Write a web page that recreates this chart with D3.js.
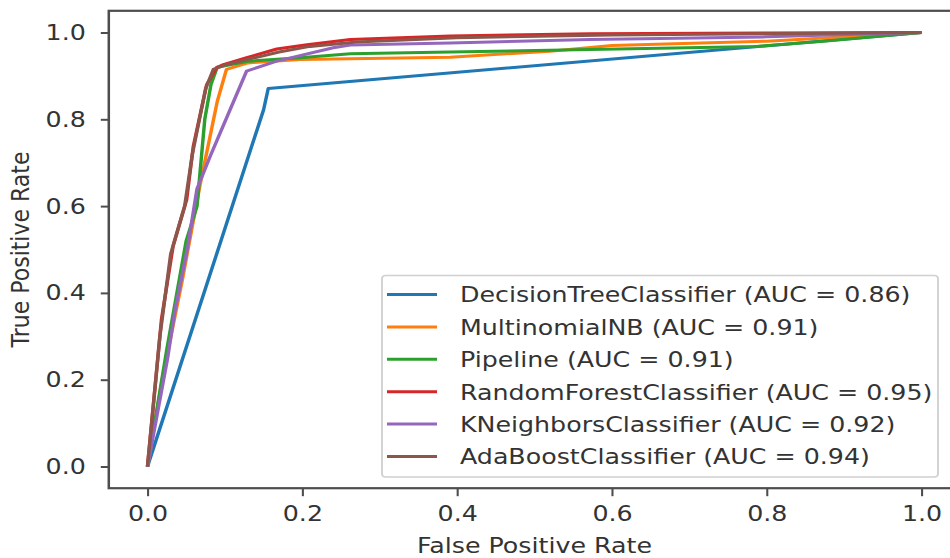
<!DOCTYPE html>
<html>
<head>
<meta charset="utf-8">
<script src="https://cdn.jsdelivr.net/npm/d3@7"></script>
<style>
  body { margin: 0; background: #fff; }
  svg { display: block; }
  text { font-family: "DejaVu Sans", sans-serif; fill: #333; }
</style>
</head>
<body>
<svg id="chart"></svg>
<script>
// ROC curves, one fpr/tpr pair per classifier
var names = ['DecisionTreeClassifier', 'MultinomialNB', 'Pipeline',
             'RandomForestClassifier', 'KNeighborsClassifier', 'AdaBoostClassifier'];
var aucs = [0.86, 0.91, 0.91, 0.95, 0.92, 0.94];
var colors = ['#1f77b4', '#ff7f0e', '#2ca02c', '#d62728', '#9467bd', '#8c564b'];

var dtFpr = [0, 0.150, 0.156, 1];
var dtTpr = [0, 0.822, 0.871, 1];

var nbFpr = [0, 0.02, 0.045, 0.068, 0.09, 0.102, 0.13, 0.197, 0.391, 0.52, 0.6, 0.8, 1];
var nbTpr = [0, 0.21, 0.43, 0.65, 0.84, 0.915, 0.93, 0.938, 0.943, 0.957, 0.97, 0.98, 1];

var plFpr = [0, 0.025, 0.05, 0.064, 0.074, 0.082, 0.09, 0.12, 0.132, 0.197, 0.262, 0.391, 0.572, 0.787, 0.873, 1];
var plTpr = [0, 0.27, 0.52, 0.6, 0.8, 0.88, 0.92, 0.93, 0.934, 0.942, 0.951, 0.955, 0.961, 0.968, 0.98, 1];

var rfFpr = [0, 0.018, 0.033, 0.0506, 0.0592, 0.0765, 0.0894, 0.098, 0.128, 0.167, 0.206, 0.262, 0.391, 0.572, 0.8, 1];
var rfTpr = [0, 0.338, 0.507, 0.615, 0.738, 0.88, 0.919, 0.926, 0.942, 0.962, 0.972, 0.984, 0.992, 0.997, 0.999, 1];

var knFpr = [0, 0.026, 0.035, 0.052, 0.064, 0.081, 0.128, 0.167, 0.24, 0.262, 0.391, 0.572, 0.8, 1];
var knTpr = [0, 0.25, 0.354, 0.507, 0.64, 0.715, 0.911, 0.934, 0.965, 0.971, 0.976, 0.984, 0.99, 1];

var abFpr = [0, 0.016, 0.03, 0.048, 0.058, 0.075, 0.085, 0.1, 0.13, 0.17, 0.21, 0.27, 0.4, 0.6, 0.8, 1];
var abTpr = [0, 0.3, 0.49, 0.6, 0.72, 0.87, 0.915, 0.925, 0.938, 0.955, 0.968, 0.978, 0.988, 0.994, 0.997, 1];

var xTicks = [0, 0.2, 0.4, 0.6, 0.8, 1.0];
var yTicks = [0, 0.2, 0.4, 0.6, 0.8, 1.0];

var fprs = [dtFpr, nbFpr, plFpr, rfFpr, knFpr, abFpr];
var tprs = [dtTpr, nbTpr, plTpr, rfTpr, knTpr, abTpr];

/** the picture is a horizontally stretched figure, so draw in a squeezed box */
var SX = 1.15,
    width = 950, height = 558,
    fontSize = 22;

function X(px) { return px / SX; }

var svg = d3.select('#chart')
    .attr('width', width)
    .attr('height', height)
    .attr('viewBox', '0 0 ' + X(width) + ' ' + height)
    .attr('preserveAspectRatio', 'none');

var x = d3.scaleLinear().domain([0, 1]).range([X(147.5), X(921.5)]);
var y = d3.scaleLinear().domain([0, 1]).range([466.5, 32.5]);

var spine = '#4d4d4d';

// x axis
var xAxis = svg.append('g')
    .attr('transform', 'translate(0,' + y(-0.05) + ')')
    .call(d3.axisBottom(x).tickValues(xTicks).tickFormat(d3.format('.1f'))
        .tickSize(8).tickPadding(9));
xAxis.select('.domain').remove();
xAxis.selectAll('line').attr('stroke', spine).attr('stroke-width', 1.8);
xAxis.selectAll('text').attr('font-size', fontSize).attr('fill', '#333')
    .attr('font-family', '"DejaVu Sans", sans-serif');

// y axis
var yAxis = svg.append('g')
    .attr('transform', 'translate(' + x(-0.05) + ',0)')
    .call(d3.axisLeft(y).tickValues(yTicks).tickFormat(d3.format('.1f'))
        .tickSize(X(8)).tickPadding(X(15)));
yAxis.select('.domain').remove();
yAxis.selectAll('line').attr('stroke', spine).attr('stroke-width', 2);
yAxis.selectAll('text').attr('font-size', fontSize).attr('fill', '#333')
    .attr('font-family', '"DejaVu Sans", sans-serif');

// curves
var line = d3.line()
    .x(function (d) { return x(d[0]); })
    .y(function (d) { return y(d[1]); });

names.forEach(function (n, i) {
    var pts = fprs[i].map(function (f, j) { return [f, tprs[i][j]]; });
    svg.append('path')
        .datum(pts)
        .attr('d', line)
        .attr('fill', 'none')
        .attr('stroke', colors[i])
        .attr('stroke-width', 3)
        .attr('stroke-linejoin', 'round');
});

// frame
svg.append('rect')
    .attr('x', x(-0.05))
    .attr('y', y(1.05))
    .attr('width', x(1.05) - x(-0.05))
    .attr('height', y(-0.05) - y(1.05))
    .attr('fill', 'none')
    .attr('stroke', spine)
    .attr('stroke-width', 2.2);

// axis labels
svg.append('text')
    .attr('x', (x(-0.05) + x(1.05)) / 2)
    .attr('y', 553)
    .attr('text-anchor', 'middle')
    .attr('font-size', fontSize)
    .text('False Positive Rate');

svg.append('text')
    .attr('transform', 'translate(' + X(29) + ',' + (y(-0.05) + y(1.05)) / 2 + ') rotate(-90)')
    .attr('text-anchor', 'middle')
    .attr('font-size', fontSize)
    .text('True Positive Rate');

// legend
var legend = svg.append('g');
var lgLeft = X(382), lgRight = X(938), lgTop = 275.5, lgBottom = 477,
    rowY = 294.5, rowStep = 32.4;

legend.append('rect')
    .attr('x', lgLeft)
    .attr('y', lgTop)
    .attr('width', lgRight - lgLeft)
    .attr('height', lgBottom - lgTop)
    .attr('rx', 3)
    .attr('fill', 'rgba(255,255,255,0.8)')
    .attr('stroke', '#d0d0d0')
    .attr('stroke-width', 1.6);

var rows = legend.selectAll('g.row')
    .data(names)
    .enter()
    .append('g')
    .attr('transform', function (d, i) { return 'translate(0,' + (rowY + i * rowStep) + ')'; });

rows.append('line')
    .attr('x1', X(387)).attr('x2', X(437))
    .attr('y1', 0).attr('y2', 0)
    .attr('stroke', function (d, i) { return colors[i]; })
    .attr('stroke-width', 3);

rows.append('text')
    .attr('x', X(460))
    .attr('dy', '0.36em')
    .attr('font-size', fontSize)
    .text(function (d, i) { return d + ' (AUC = ' + aucs[i].toFixed(2) + ')'; });
</script>
</body>
</html>
